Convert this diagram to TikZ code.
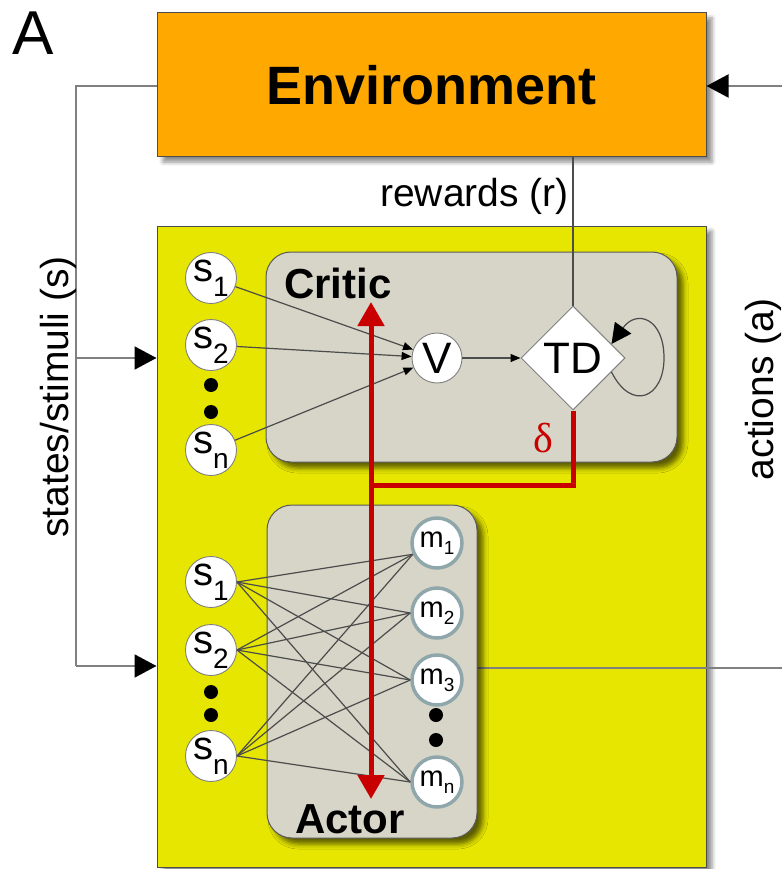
\documentclass[tikz,border=0pt]{standalone}
\usepackage{fontspec}
\setmainfont{Liberation Sans}
\newfontfamily\greekserif{Liberation Serif}
\usetikzlibrary{arrows.meta,shapes.geometric,shadows.blur}

\definecolor{envorange}{HTML}{FFA800}
\definecolor{agentyellow}{HTML}{E6E600}
\definecolor{panelgray}{HTML}{D6D5C8}
\definecolor{rimgray}{HTML}{8FA7AB}
\definecolor{deltared}{HTML}{C80000}

\newcommand\fs[1]{\fontsize{#1}{#1}\selectfont}

\begin{document}
\begin{tikzpicture}[x=1pt,y=-1pt,
  bigbox/.style={draw=black!70,line width=1pt,
    blur shadow={shadow xshift=6pt,shadow yshift=-5pt,shadow blur radius=4pt,shadow opacity=45}},
  panel/.style={draw=black!65,line width=1pt,fill=panelgray,rounded corners=25pt,
    blur shadow={shadow xshift=6pt,shadow yshift=-6pt,shadow blur radius=5pt,shadow opacity=60}},
  stim/.style={circle,draw=black!50,line width=0.9pt,fill=white,minimum size=50pt,inner sep=0pt},
  motor/.style={circle,draw=rimgray,line width=3.5pt,fill=white,minimum size=50pt,inner sep=0pt},
  bead/.style={circle,fill=black,minimum size=14pt,inner sep=0pt},
  feed/.style={draw=black!50,line width=2pt},
  bigtip/.style={-{Triangle[length=22pt,width=23pt,black]}},
  link/.style={draw=black!70,line width=1.2pt},
  syn/.style={link,-{Triangle[length=10pt,width=8pt,black]}},
  tdsig/.style={draw=deltared,line width=5pt},
  redtip/.style={{Triangle[length=24pt,width=26pt]}-{Triangle[length=24pt,width=26pt]}},
  side/.style={font=\fs{39},inner sep=0pt},
]
\useasboundingbox (0,0) rectangle (782,869);

% panel label
\node[font=\fs{62},inner sep=0pt] (panelA) at (33,33) {A};

% environment
\node[bigbox,fill=envorange,minimum width=549pt,minimum height=144pt,inner sep=0pt,
      font=\bfseries\fs{54}] (env) at (431.5,85) {Environment};

% agent
\node[bigbox,fill=agentyellow,minimum width=549pt,minimum height=641pt,inner sep=0pt] (agent) at (431.5,546.5) {};

% wiring outside the agent
\coordinate (bendtop) at (76,86);
\coordinate (bendmid) at (76,358);
\coordinate (bendlow) at (76,666);
\coordinate (rightin) at (782,86);
\coordinate (rightout) at (782,668);
\draw[feed] (env.west |- bendtop) -- (bendtop) -- (bendlow);
\draw[feed,bigtip] (bendmid) -- (agent.west |- bendmid);
\draw[feed,bigtip] (bendlow) -- (agent.west |- bendlow);
\draw[feed,bigtip] (rightin) -- (env.east |- rightin);

% action output runs out from behind the actor panel
\coordinate (actout) at (440,668);
\draw[feed] (actout) -- (rightout);

% critic and actor panels
\node[panel,minimum width=411pt,minimum height=210pt] (critic) at (471.5,357) {};
\node[panel,minimum width=210pt,minimum height=333pt] (actor) at (372,671.5) {};
\node[font=\bfseries\fs{42},anchor=base west,inner sep=0pt] (criticlabel) at (284,298) {Critic};
\node[font=\bfseries\fs{42},anchor=base west,inner sep=0pt] (actorlabel) at (295,833) {Actor};

% critic units
\node[stim] (cs1) at (211,278) {\fs{40}s\raisebox{-15pt}{\fs{28}1}};
\node[stim] (cs2) at (211,345) {\fs{40}s\raisebox{-15pt}{\fs{28}2}};
\node[stim] (csn) at (211,450) {\fs{40}s\raisebox{-15pt}{\fs{28}n}};
\node[bead] (cd1) at (211,385) {};
\node[bead] (cd2) at (211,412) {};
\node[stim,font=\fs{44}] (V) at (437,358) {V};
\node[diamond,draw=black!50,line width=1pt,fill=white,minimum width=104pt,minimum height=104pt,
      inner sep=0pt,font=\fs{44}] (td) at (573,358) {TD};

% actor units
\node[stim] (as1) at (211,582) {\fs{40}s\raisebox{-15pt}{\fs{28}1}};
\node[stim] (as2) at (211,650) {\fs{40}s\raisebox{-15pt}{\fs{28}2}};
\node[stim] (asn) at (211,756) {\fs{40}s\raisebox{-15pt}{\fs{28}n}};
\node[bead] (ad1) at (211,692) {};
\node[bead] (ad2) at (211,715) {};
\node[motor] (m1) at (437,543) {\fs{29}m\raisebox{-7pt}{\fs{19}1}};
\node[motor] (m2) at (437,613) {\fs{29}m\raisebox{-7pt}{\fs{19}2}};
\node[motor] (m3) at (437,680) {\fs{29}m\raisebox{-7pt}{\fs{19}3}};
\node[motor] (mn) at (437,782) {\fs{29}m\raisebox{-7pt}{\fs{19}n}};
\node[bead] (md1) at (436,715) {};
\node[bead] (md2) at (436,740) {};

% reward input
\draw[link] (env.south -| td.north) -- (td.north);

% critic connections
\draw[syn] (cs1) -- (V);
\draw[syn] (cs2) -- (V);
\draw[syn] (csn) -- (V);
\draw[syn] (V) -- (td);
\draw[link,-{Triangle[length=20pt,width=20pt,black]}] (td.-20)
  .. controls +(20,40) and +(0,40) .. (664,358)
  .. controls +(0,-40) and +(25,-35) .. (td.20);

% actor connections, every input to every motor unit
\foreach \s in {as1,as2,asn}{
  \draw[link] (\s.east) -- (m1.205);
  \foreach \m in {m2,m3,mn}{
    \draw[link] (\s.east) -- (\m.west);
  }
}

% TD error signal
\coordinate (redtop) at (371,302);
\coordinate (redjoin) at (371,485);
\coordinate (redbottom) at (371,799);
\draw[tdsig] (td.south) |- (redjoin);
\draw[tdsig,redtip] (redtop) -- (redbottom);
\node[text=deltared,font=\greekserif\fs{42},inner sep=0pt] (delta) at (543,438) {δ};

% side labels
\node[side,anchor=east] (rewards) at (569,196) {rewards (r)};
\node[side,rotate=90] (states) at (58,397) {states/stimuli (s)};
\node[side,rotate=90] (actions) at (763,389) {actions (a)};
\end{tikzpicture}
\end{document}
